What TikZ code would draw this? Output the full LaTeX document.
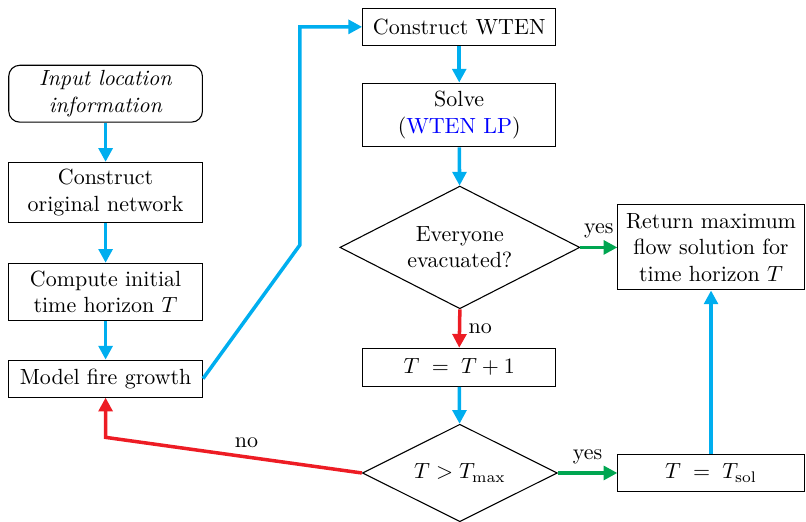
\documentclass[tikz,border=0pt]{standalone}
\usetikzlibrary{shapes.geometric,arrows.meta}
\definecolor{flowcyan}{RGB}{0,174,239}
\definecolor{flowred}{RGB}{237,28,36}
\definecolor{flowgreen}{RGB}{0,166,81}
\begin{document}
\begin{tikzpicture}[box/.style={draw, rectangle, align=center, minimum width=3.1cm, inner sep=2pt},
	decision/.style={draw, diamond, align=center, inner xsep=0pt},
	every path/.style={line width=0.5pt},
	flow/.style={line width=1.6pt, -{Triangle[length=2.2mm,width=2.2mm]}}]
	\useasboundingbox (0,0) rectangle (12.9,8.34);
	\node[box, rounded corners=5pt, minimum height=0.91cm] (inp) at (1.69,6.84) {\textit{Input location}\\\textit{information}};
	\node[box, minimum height=0.96cm] (orig) at (1.69,5.26) {Construct\\original network};
	\node[box, minimum height=0.91cm] (hor) at (1.69,3.67) {Compute initial\\time horizon $T$};
	\node[box, minimum height=0.59cm] (fire) at (1.69,2.28) {Model fire growth};
	\node[box, minimum width=3.09cm, minimum height=0.59cm] (wten) at (7.35,7.91) {Construct WTEN};
	\node[box, minimum width=3.09cm, minimum height=1.02cm] (solve) at (7.35,6.5) {Solve\\(\textcolor{blue}{WTEN LP})};
	\node[decision, inner ysep=-5.4pt, minimum width=3.84cm, minimum height=1.92cm] (evac) at (7.36,4.38) {Everyone\\evacuated?};
	\node[box, minimum width=3.09cm, minimum height=0.61cm] (inc) at (7.35,2.46) {$T\;=\;T+1$};
	\node[decision, inner ysep=-2.8pt, minimum width=3.12cm, minimum height=1.54cm] (tmax) at (7.36,0.77) {$T>T_{\max}$};
	\node[box, minimum width=2.98cm, minimum height=1.36cm] (ret) at (11.38,4.38) {Return maximum\\flow solution for\\time horizon $T$};
	\node[box, minimum width=2.98cm, minimum height=0.59cm] (sol) at (11.38,0.77) {$T\;=\;T_{\mathrm{sol}}$};
	\coordinate (up) at (4.8,4.42);
	\coordinate (back) at (1.69,1.34);
	\draw[flow, flowcyan] (inp)--(orig);
	\draw[flow, flowcyan] (orig)--(hor);
	\draw[flow, flowcyan] (hor)--(fire);
	\draw[flow, flowcyan] (fire.east)--(up)|-(wten.west);
	\draw[flow, flowcyan] (wten)--(solve);
	\draw[flow, flowcyan] (solve)--(evac);
	\draw[flow, flowgreen] (evac.east)--node[above, text=black]{yes}(ret.west);
	\draw[flow, flowred] (evac.south)--node[right, text=black]{no}(inc.north);
	\draw[flow, flowcyan] (inc)--(tmax);
	\draw[flow, flowgreen] (tmax.east)--node[above, text=black]{yes}(sol.west);
	\draw[flow, flowcyan] (sol)--(ret);
	\draw[flow, flowred] (tmax.west)--node[pos=0.45, above, text=black]{no}(back)--(fire.south);
\end{tikzpicture}
\end{document}
